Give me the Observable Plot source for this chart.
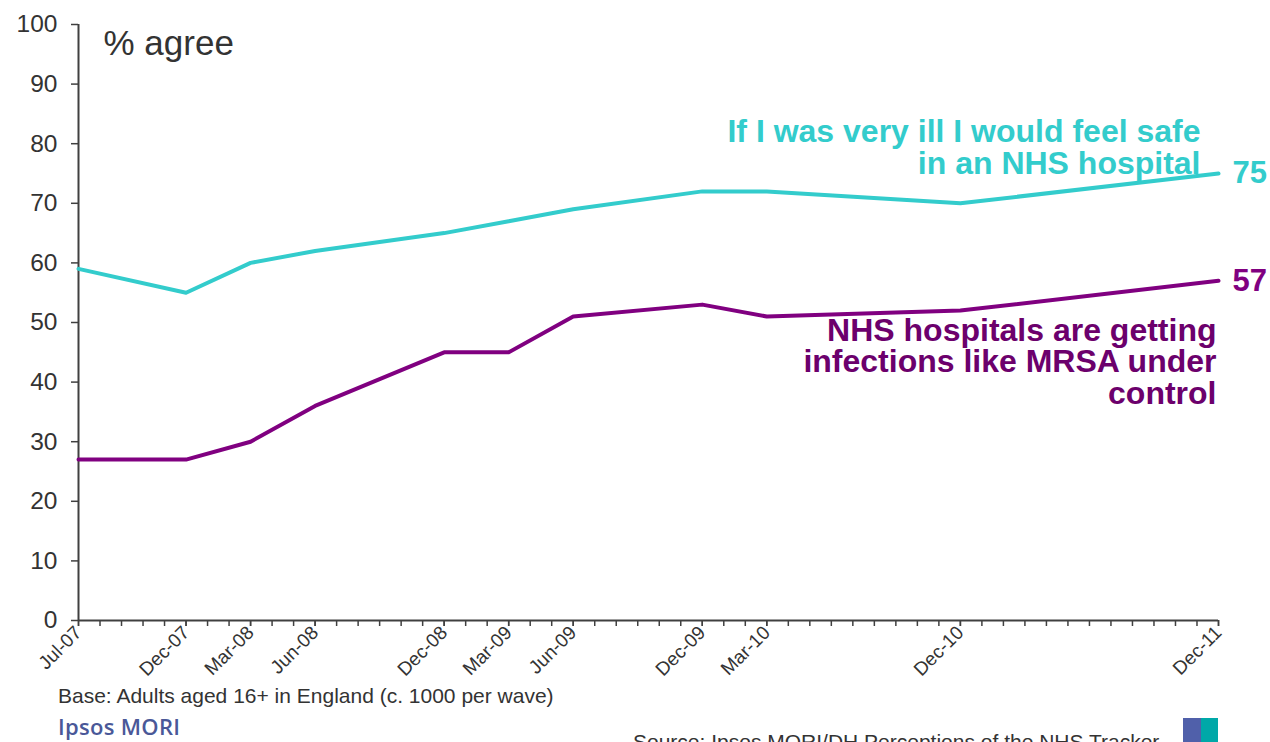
<!DOCTYPE html>
<html>
<head>
<meta charset="utf-8">
<script src="https://cdn.jsdelivr.net/npm/d3@7"></script>
<script src="https://cdn.jsdelivr.net/npm/@observablehq/plot@0.6"></script>
<style>
  html, body { margin: 0; padding: 0; background: #fff; overflow: hidden; }
  #wrap { position: relative; width: 1270px; height: 742px; font-family: "Liberation Sans", Arial, sans-serif; }
  #chart { position: absolute; left: 0; top: 0; }
  .base { position: absolute; left: 58px; top: 684px; font-size: 21px; color: #333; white-space: nowrap; }
  .ipsos { position: absolute; left: 58px; top: 711px; font-size: 22px; font-weight: 600; color: #4a5898; white-space: nowrap; font-family: "Open Sans", "DejaVu Sans", sans-serif; letter-spacing: 0.3px; }
  .source { position: absolute; left: 633px; top: 730px; font-size: 21px; color: #333; white-space: nowrap; }
  .logo { position: absolute; left: 1183px; top: 718px; width: 35px; height: 30px; }
  .logo .l { position: absolute; left: 0; top: 0; width: 18px; height: 30px; background: #5060aa; }
  .logo .r { position: absolute; left: 18px; top: 0; width: 17px; height: 30px; background: #00a8a8; }
</style>
</head>
<body>
<div id="wrap">
  <div id="chart"></div>
  <div class="base">Base: Adults aged 16+ in England (c. 1000 per wave)</div>
  <div class="ipsos">Ipsos MORI</div>
  <div class="source">Source: Ipsos MORI/DH Perceptions of the NHS Tracker</div>
  <div class="logo"><div class="l"></div><div class="r"></div></div>
</div>
<script>
// ---- data ----
const waves = ["Jul-07","Dec-07","Mar-08","Jun-08","Dec-08","Mar-09","Jun-09","Dec-09","Mar-10","Dec-10","Dec-11"];
const safeValues = [59,55,60,62,65,67,69,72,72,70,75];
const mrsaValues = [27,27,30,36,45,45,51,53,51,52,57];
const yTicks = [0,10,20,30,40,50,60,70,80,90,100];
const safeLabel = "If I was very ill I would feel safe\nin an NHS hospital";
const mrsaLabel = "NHS hospitals are getting\ninfections like MRSA under\ncontrol";
const yTitle = "% agree";

// ---- helpers ----
const monthNames = ["Jan","Feb","Mar","Apr","May","Jun","Jul","Aug","Sep","Oct","Nov","Dec"];
function monthIndex(label) {
  const [m, y] = label.split("-");
  return (2000 + +y) * 12 + monthNames.indexOf(m);
}
const start = monthIndex(waves[0]);
const end = monthIndex(waves[waves.length - 1]);
const waveX = waves.map(w => monthIndex(w) - start);
const allMonths = d3.range(0, end - start + 1);
const labelOf = new Map(waveX.map((x, i) => [x, waves[i]]));

const safe = waves.map((w, i) => ({x: waveX[i], y: safeValues[i]}));
const mrsa = waves.map((w, i) => ({x: waveX[i], y: mrsaValues[i]}));
const safeLast = safe[safe.length - 1];
const mrsaLast = mrsa[mrsa.length - 1];

const cyan = "#33cccc";
const purple = "#800080";
const purpleText = "#6c006c";
const axisColor = "#404040";
const fontFamily = "'Liberation Sans', Arial, sans-serif";

const chart = Plot.plot({
  width: 1270,
  height: 680,
  marginLeft: 78,
  marginRight: 52,
  marginTop: 24,
  marginBottom: 60,
  style: {fontFamily, color: "#333", background: "white", overflow: "visible"},
  x: {type: "linear", domain: [0, end - start], label: null},
  y: {domain: [0, 100], label: null},
  marks: [
    Plot.axisY({ticks: yTicks, tickSize: 7, tickPadding: 14, fontSize: 24.5, stroke: axisColor, strokeWidth: 1.5, fill: "#333", label: null}),
    Plot.axisX({ticks: allMonths, tickFormat: () => "", tickSize: 6, stroke: axisColor, strokeWidth: 1.5, label: null}),
    Plot.axisX({ticks: waveX, tickFormat: d => labelOf.get(d), tickSize: 6, tickPadding: 3, tickRotate: -45, fontSize: 19, stroke: axisColor, strokeWidth: 1.5, fill: "#333", label: null}),
    Plot.ruleX([0], {stroke: axisColor, strokeWidth: 2}),
    Plot.ruleY([0], {stroke: axisColor, strokeWidth: 2}),
    Plot.line(safe, {x: "x", y: "y", stroke: cyan, strokeWidth: 4}),
    Plot.line(mrsa, {x: "x", y: "y", stroke: purple, strokeWidth: 4}),
    Plot.text([safeLast], {x: "x", y: "y", text: d => String(d.y), textAnchor: "start", dx: 14, fill: cyan, fontSize: 31, fontWeight: "bold"}),
    Plot.text([mrsaLast], {x: "x", y: "y", text: d => String(d.y), textAnchor: "start", dx: 14, fill: purple, fontSize: 31, fontWeight: "bold"}),
    Plot.text([safeLast], {x: "x", y: "y", text: () => safeLabel, textAnchor: "end", lineAnchor: "bottom", lineHeight: 1.0, dx: -18, dy: 0, fill: cyan, fontSize: 32, fontWeight: "bold"}),
    Plot.text([mrsaLast], {x: "x", y: "y", text: () => mrsaLabel, textAnchor: "end", lineAnchor: "top", lineHeight: 0.98, dx: -2, dy: 38, fill: purpleText, fontSize: 32, fontWeight: "bold"}),
    Plot.text([yTitle], {frameAnchor: "top-left", dx: 25, dy: 6, lineAnchor: "top", textAnchor: "start", fontSize: 35, fill: "#333"})
  ]
});
document.getElementById("chart").appendChild(chart);
</script>
</body>
</html>
